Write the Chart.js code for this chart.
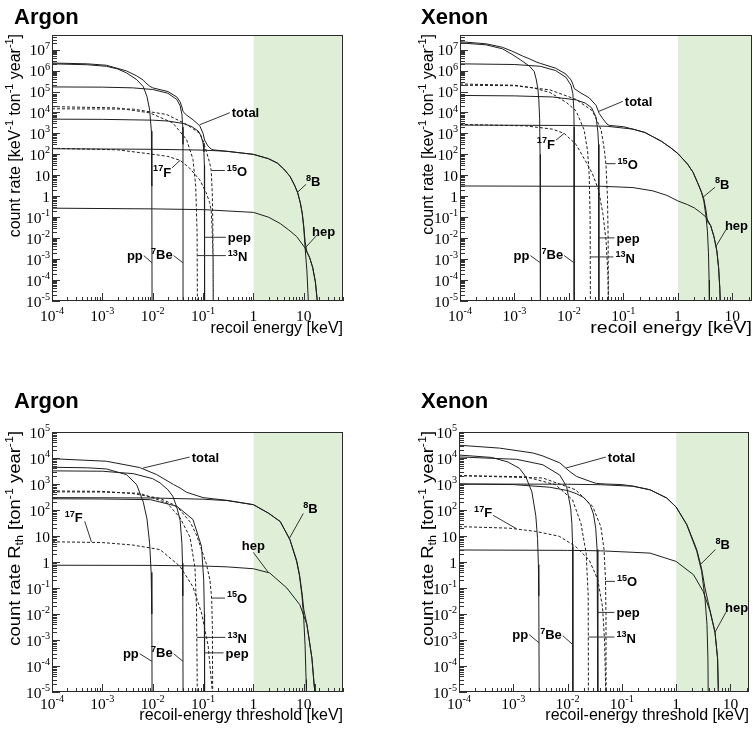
<!DOCTYPE html>
<html>
<head>
<meta charset="utf-8">
<script src="https://cdn.jsdelivr.net/npm/chart.js@4.4.1/dist/chart.umd.min.js"></script>
<style>
  body { margin: 0; background: #fff; width: 753px; height: 735px; position: relative; overflow: hidden; }
  canvas { position: absolute; }
</style>
</head>
<body>
<canvas id="argonDiff" width="376" height="350" style="left:0;top:0"></canvas>
<canvas id="xenonDiff" width="377" height="350" style="left:376px;top:0"></canvas>
<canvas id="argonRate" width="376" height="355" style="left:0;top:380px"></canvas>
<canvas id="xenonRate" width="377" height="355" style="left:376px;top:380px"></canvas>
<script>
// ---- values: [recoil energy keV, rate] ----
const seriesNames = ['pp', '7Be', 'pep', '13N', '15O', '17F', '8B', 'hep', 'total'];
const dashedNames = ['13N', '15O', '17F'];
const xDecades = [-4, -3, -2, -1, 0, 1];
const yDecadesDiff = [-5, -4, -3, -2, -1, 0, 1, 2, 3, 4, 5, 6, 7];
const yDecadesRate = [-5, -4, -3, -2, -1, 0, 1, 2, 3, 4, 5];
const bandStart = 1; // keV, shaded region

// Argon, differential rate
const arDiffPP = [[1e-4,2.1e6],[5e-4,1.9e6],[1.2e-3,1.6e6],[2e-3,1.2e6],[3e-3,7.8e5],[4.8e-3,3.7e5],[6.5e-3,1.7e5],[7.7e-3,5.7e4],[8.7e-3,1.3e4],[9.4e-3,1.3e3],[9.6e-3,3],[9.7e-3,1e-5]];
const arDiffBe7 = [[1e-4,1.66e5],[1e-3,1.62e5],[4e-3,1.5e5],[1e-2,1.25e5],[2e-2,8.3e4],[3e-2,4.2e4],[3.5e-2,2.1e4],[3.8e-2,8e3],[3.95e-2,2e3],[3.99e-2,3e2],[4e-2,1e-5]];
const arDiffPep = [[1e-4,4.8e3],[1e-3,4.7e3],[1e-2,4.3e3],[2e-2,3.9e3],[4e-2,3e3],[6e-2,2.1e3],[8e-2,1.3e3],[9e-2,8e2],[0.1,3.5e2],[0.104,1.3e2],[0.106,30],[0.107,1e-5]];
const arDiffN13 = [[1e-4,1.9e4],[1.9e-3,1.66e4],[8.7e-3,9.6e3],[2.5e-2,3.2e3],[4.7e-2,5.1e2],[6.3e-2,58],[7.14e-2,3.1],[7.6e-2,1.9e-2],[7.7e-2,1e-5]];
const arDiffO15 = [[1e-4,1.5e4],[4.1e-3,1.45e4],[1.9e-2,8e3],[4.7e-2,2.7e3],[8.6e-2,1e3],[0.1,4.5e2],[0.115,1.5e2],[0.135,40],[0.145,17],[0.152,1.5],[0.156,0.05],[0.158,1e-3],[0.159,1e-5]];
const arDiffF17 = [[1e-4,195],[2e-3,165],[9e-3,105],[2e-2,80],[3.5e-2,52],[5.4e-2,22],[8.6e-2,6],[0.115,1.5],[0.135,0.5],[0.145,0.2],[0.152,0.02],[0.158,1e-3],[0.159,1e-5]];
const arDiffB8 = [[1e-4,186],[1e-2,175],[0.1,160],[0.3,140],[1,100],[2,62],[3,38],[4,20],[5.3,9],[6.5,3.5],[7.5,1.55],[8.5,0.5],[9.3,0.15],[10,0.03],[10.6,3.5e-3],[11.5,3e-4],[12.3,1e-5]];
const arDiffHep = [[1e-4,0.27],[1e-2,0.25],[0.1,0.23],[1,0.17],[2,0.1],[3.4,0.05],[5,0.025],[7.2,0.012],[10.6,3.4e-3],[13,1.2e-3],[15,4e-4],[17,8e-5],[18.5,1e-5]];
const arDiffTotal = [[1e-4,2.3e6],[5e-4,2.1e6],[1.2e-3,1.8e6],[3e-3,9.7e5],[4.8e-3,5.6e5],[6.5e-3,3.5e5],[7.7e-3,2.3e5],[8.7e-3,1.8e5],[1e-2,1.5e5],[2e-2,1e5],[3e-2,5.5e4],[3.5e-2,3.2e4],[3.8e-2,1.8e4],[4e-2,1.1e4],[4.7e-2,7.5e3],[6.3e-2,4.5e3],[8.6e-2,2.3e3],[0.1,1e3],[0.107,480],[0.125,250],[0.145,180],[0.16,165],[0.3,140],[1,100],[2,62],[3,38],[4,20],[5.3,9],[6.5,3.5],[7.5,1.56],[8.5,0.5],[9.3,0.16],[10,0.035],[10.6,7e-3],[11.5,2.2e-3],[13,1.2e-3],[15,4e-4],[17,8e-5],[18.5,1e-5]];

// Xenon, differential rate
const xeDiffPP = [[1e-4,2.1e7],[3e-4,1.7e7],[6e-4,1.1e7],[9e-4,6e6],[1.3e-3,3.2e6],[1.9e-3,1.6e6],[2.3e-3,9e5],[2.5e-3,4e5],[2.7e-3,1.3e5],[2.8e-3,4e4],[2.9e-3,5e3],[2.95e-3,1e2],[3e-3,1e-5]];
const xeDiffBe7 = [[1e-4,2.1e6],[1e-3,1.95e6],[3e-3,1.6e6],[5.7e-3,1e6],[8.8e-3,4.8e5],[1.09e-2,2e5],[1.18e-2,8e4],[1.23e-2,1.5e4],[1.245e-2,2e3],[1.25e-2,1e-5]];
const xeDiffPep = [[1e-4,6.5e4],[1e-3,6.2e4],[5e-3,5.5e4],[1.35e-2,4e4],[2e-2,2.8e4],[2.6e-2,1.7e4],[3.15e-2,6e3],[3.4e-2,1.2e3],[3.5e-2,3e2],[3.55e-2,1e-5]];
const xeDiffN13 = [[1e-4,2.3e5],[1e-3,2e5],[2.2e-3,1.5e5],[4.5e-3,9e4],[9e-3,3e4],[1.35e-2,1.2e4],[1.9e-2,1.5e3],[2.2e-2,1.5e2],[2.36e-2,10],[2.45e-2,0.1],[2.48e-2,1e-5]];
const xeDiffO15 = [[1e-4,2e5],[1e-3,1.9e5],[4.5e-3,1.2e5],[1.35e-2,4.2e4],[2.7e-2,1.2e4],[3.9e-2,1.5e3],[4.5e-2,1.5e2],[4.8e-2,28],[5.1e-2,1],[5.25e-2,0.01],[5.3e-2,1e-5]];
const xeDiffF17 = [[1e-4,2.7e3],[1.6e-3,2.3e3],[5e-3,1.6e3],[8.2e-3,1e3],[1.35e-2,3e2],[2e-2,50],[2.7e-2,12],[3.5e-2,2],[4.2e-2,0.15],[4.8e-2,8e-3],[5.2e-2,2e-4],[5.3e-2,1e-5]];
const xeDiffB8 = [[1e-4,2.5e3],[1e-2,2.4e3],[0.05,2.2e3],[0.15,1.6e3],[0.25,1.1e3],[0.5,420],[0.75,200],[1,110],[1.5,35],[1.9,14],[2.3,4.5],[2.7,1.6],[3,0.6],[3.3,0.1],[3.5,0.02],[3.65,2e-3],[3.75,1e-4],[3.8,1e-5]];
const xeDiffHep = [[1e-4,3.1],[1e-2,3],[0.04,3],[0.15,2.6],[0.35,1.8],[0.63,1.1],[1,0.6],[1.5,0.4],[2,0.28],[2.6,0.17],[3.3,0.1],[4,0.04],[4.6,0.012],[5.2,2.5e-3],[5.6,4e-4],[5.9,4e-5],[6,1e-5]];
const xeDiffTotal = [[1e-4,2.4e7],[3e-4,1.9e7],[6e-4,1.3e7],[9e-4,8.5e6],[1.4e-3,5e6],[1.9e-3,3.6e6],[2.5e-3,2.6e6],[3e-3,2.2e6],[5.7e-3,1.3e6],[8.8e-3,6.8e5],[1.09e-2,3.6e5],[1.18e-2,2.3e5],[1.25e-2,1.4e5],[1.6e-2,9e4],[2.36e-2,5e4],[3.15e-2,2.2e4],[3.6e-2,9e3],[4.2e-2,5e3],[5e-2,2.8e3],[5.5e-2,2.4e3],[0.1,2.1e3],[0.15,1.6e3],[0.25,1.1e3],[0.5,420],[0.75,200],[1,110],[1.5,35],[1.9,14],[2.3,4.5],[2.7,1.7],[3,0.75],[3.3,0.2],[3.5,0.06],[4,0.04],[4.6,0.012],[5.2,2.5e-3],[5.6,4e-4],[5.9,4e-5],[6,1e-5]];

// Argon, rate above threshold
const arRatePP = [[1e-4,4.4e3],[5e-4,4.2e3],[1.2e-3,3.8e3],[3e-3,2.3e3],[4.8e-3,950],[6.5e-3,200],[7.7e-3,45],[8.7e-3,5],[9.3e-3,0.4],[9.6e-3,0.01],[9.7e-3,1e-5]];
const arRateBe7 = [[1e-4,3.2e3],[1e-3,3.1e3],[4.1e-3,2.5e3],[1e-2,1.6e3],[1.4e-2,1.1e3],[2e-2,600],[2.5e-2,340],[3e-2,130],[3.5e-2,40],[3.8e-2,5],[3.9e-2,0.9],[3.96e-2,0.05],[4e-2,1e-5]];
const arRatePep = [[1e-4,270],[1e-3,265],[9e-3,250],[3e-2,140],[6.3e-2,43],[9.3e-2,4],[0.103,0.2],[0.106,0.01],[0.107,1e-5]];
const arRateN13 = [[1e-4,500],[1e-3,490],[5.5e-3,440],[1.9e-2,190],[3.5e-2,50],[5.5e-2,9],[6.9e-2,0.6],[7.4e-2,0.02],[7.6e-2,1e-4],[7.65e-2,1e-5]];
const arRateO15 = [[1e-4,540],[1e-3,520],[4e-3,430],[1.4e-2,280],[2.6e-2,160],[3.5e-2,100],[5.5e-2,35],[7.4e-2,11],[9.3e-2,3],[0.117,0.8],[0.137,0.2],[0.148,0.04],[0.153,3e-3],[0.155,1e-5]];
const arRateF17 = [[1e-4,6],[1e-3,5.6],[4e-3,4.5],[1.4e-2,3],[3.5e-2,0.67],[6.3e-2,0.11],[9.3e-2,0.011],[0.126,6e-4],[0.145,3e-5],[0.153,1e-5]];
const arRateB8 = [[1e-4,300],[1e-2,290],[0.1,260],[0.3,230],[1,160],[2,75],[3.4,36],[5.3,7.2],[7.2,1.05],[8.2,0.3],[9.2,0.05],[10,6e-3],[10.6,6e-4],[11.1,3e-5],[11.3,1e-5]];
const arRateHep = [[1e-4,0.75],[1e-2,0.74],[0.1,0.7],[0.3,0.65],[1,0.55],[2.1,0.38],[4.6,0.1],[8.3,0.023],[11.5,4e-3],[14.5,2e-4],[16,2e-5],[16.6,1e-5]];
const arRateTotal = [[1e-4,9.4e3],[1.2e-3,7.5e3],[5.5e-3,4.3e3],[1.2e-2,2.3e3],[2.6e-2,950],[3.5e-2,700],[4.7e-2,480],[0.1,300],[0.16,270],[0.3,235],[1,160],[2,75],[3.4,36],[5.3,7.3],[7.2,1.15],[8.2,0.33],[9.2,0.065],[10,0.015],[11.5,4e-3],[14.5,2e-4],[16,2e-5],[16.6,1e-5]];

// Xenon, rate above threshold
const xeRatePP = [[1e-4,1.3e4],[4e-4,1.05e4],[8e-4,7e3],[1.3e-3,4e3],[1.7e-3,1.9e3],[2.2e-3,500],[2.6e-3,60],[2.8e-3,8],[2.9e-3,0.8],[2.95e-3,0.05],[3e-3,1e-5]];
const xeRateBe7 = [[1e-4,1.1e4],[1.15e-3,8.9e3],[3.5e-3,5.5e3],[7.2e-3,2.2e3],[9.6e-3,800],[1.14e-2,120],[1.2e-2,30],[1.24e-2,4],[1.25e-2,0.3],[1.255e-2,1e-5]];
const xeRatePep = [[1e-4,1e3],[1e-3,950],[4.7e-3,750],[1e-2,560],[1.47e-2,420],[2e-2,300],[2.6e-2,160],[3e-2,70],[3.3e-2,20],[3.5e-2,3],[3.6e-2,0.2],[3.62e-2,1e-5]];
const xeRateN13 = [[1e-4,2.1e3],[1.7e-3,1.9e3],[6e-3,940],[1.23e-2,250],[1.76e-2,31],[2.2e-2,2.2],[2.4e-2,0.05],[2.42e-2,1e-5]];
const xeRateO15 = [[1e-4,2.1e3],[3.5e-3,1.7e3],[1.4e-2,600],[2.9e-2,138],[4.1e-2,23],[4.7e-2,3],[5e-2,0.2],[5.1e-2,0.01],[5.12e-2,1e-5]];
const xeRateF17 = [[1e-4,23],[8.4e-4,20],[2.6e-3,15],[7e-3,9.8],[1.4e-2,4],[2.5e-2,1.2],[3.6e-2,0.21],[4.4e-2,0.019],[4.8e-2,1e-3],[5.05e-2,1e-5]];
const xeRateB8 = [[1e-4,1e3],[1e-2,980],[0.04,940],[0.16,820],[0.33,600],[0.67,290],[1,130],[1.57,27],[2.4,2.6],[2.95,0.44],[3.4,0.04],[3.7,4e-3],[3.85,2e-4],[3.9,1e-5]];
const xeRateHep = [[1e-4,2.9],[1e-2,2.8],[0.04,2.7],[0.33,2.2],[1,1.05],[2.1,0.32],[3.15,0.074],[4.2,0.013],[5.2,2e-3],[5.8,2e-4],[6,1e-5]];
const xeRateTotal = [[1e-4,3.1e4],[5.6e-4,2.4e4],[2.3e-3,1.56e4],[3.5e-3,1.2e4],[7.2e-3,6.5e3],[1.1e-2,3e3],[1.47e-2,1.95e3],[2.6e-2,1.26e3],[3.4e-2,1.05e3],[5e-2,1e3],[0.1,950],[0.16,830],[0.33,600],[0.67,290],[1,130],[1.57,28],[2.4,3],[2.95,0.55],[3.4,0.1],[4.2,0.014],[5.2,2e-3],[5.8,2e-4],[6,1e-5]];

// curve labels: [text, x, y (point on curve), leader dx, dy (px), text align, text dx, dy (px)]
const arDiffNotes = [
  ['total', 0.086, 2.6e3, 30, -12, 'left', 2, 0],
  ['^{17}F', 0.035, 52, -8, 7.5, 'right', -1, 4],
  ['^{15}O', 0.146, 17, 13.5, 0, 'left', 2, 1],
  ['^{8}B', 7.5, 1.55, 8.5, -8, 'left', 0, -3],
  ['hep', 10.6, 3.4e-3, 12, -13, 'left', -5, -4],
  ['pep', 0.105, 0.011, 21.7, 0, 'left', 2, 0],
  ['^{13}N', 0.077, 1.47e-3, 28.4, 0, 'left', 2, 1],
  ['pp', 0.0097, 6.6e-4, -8.3, -7.3, 'right', -1, 0],
  ['^{7}Be', 0.04, 6.6e-4, -9.4, -7.3, 'right', -1, -1]
];
const xeDiffNotes = [
  ['total', 0.0354, 1.13e4, 24, -10, 'left', 2, 0],
  ['^{17}F', 8.2e-3, 1e3, -8.3, 6.7, 'right', -1, 4],
  ['^{15}O', 0.047, 36, 10, 0, 'left', 2, 1],
  ['^{8}B', 2.9, 0.9, 12, -10, 'left', 0, -3],
  ['hep', 5.0, 4e-3, 10, -16.7, 'left', -1, -4],
  ['pep', 0.0355, 0.0103, 15.6, 0, 'left', 2, 0],
  ['^{13}N', 0.0248, 1.27e-3, 23, 0, 'left', 2, 1],
  ['pp', 0.003, 6.6e-4, -10, -7.3, 'right', -1, 0],
  ['^{7}Be', 0.0125, 6.6e-4, -10, -7.3, 'right', -1, -1]
];
const arRateNotes = [
  ['total', 6.4e-3, 4.1e3, 46.7, -11, 'left', 2, 0],
  ['^{17}F', 6.07e-4, 5.9, -6.7, -20.6, 'right', -2, -4],
  ['^{8}B', 5.15, 8, 14, -25, 'left', 0, -5],
  ['hep', 1.97, 0.4, -15, -20, 'center', 0, -7],
  ['^{15}O', 0.148, 0.041, 13.3, 0, 'left', 2, 0],
  ['^{13}N', 0.076, 1.26e-3, 28.3, 0, 'left', 2, 1],
  ['pep', 0.107, 3.2e-4, 19, 0, 'left', 2, 0],
  ['pp', 0.0097, 1.5e-4, -12.3, -7.7, 'right', -1, 0],
  ['^{7}Be', 0.04, 1.5e-4, -9.4, -7.7, 'right', -1, -1]
];
const xeRateNotes = [
  ['total', 9.3e-3, 4.1e3, 40, -11, 'left', 2, 0],
  ['^{17}F', 1.15e-3, 19, -23.4, -13.4, 'right', -1, -3],
  ['^{8}B', 2.8, 0.8, 15, -15, 'left', 0, -5],
  ['hep', 5.2, 2e-3, 11, -20, 'left', -1, -5],
  ['^{15}O', 0.0488, 0.18, 10, 0, 'left', 2, 0],
  ['pep', 0.036, 0.0115, 16.7, 0, 'left', 2, 0],
  ['^{13}N', 0.0242, 1.3e-3, 26, 0, 'left', 2, 1],
  ['pp', 0.003, 7.7e-4, -10, -8.3, 'right', -1, 0],
  ['^{7}Be', 0.0125, 6.6e-4, -10, -9, 'right', -1, -1]
];

const SANS = "'Liberation Sans', Arial, Helvetica, sans-serif";
const SERIF = "'Liberation Serif', 'Times New Roman', serif";
const lineColor = '#1e1e1e';
const bandColor = 'rgb(223,238,214)';

const panels = [
  { id: 'argonDiff', title: 'Argon', titleX: 14, titleY: 24, xMax: 60, yMin: 1e-5, yMax: 5e7,
    pad: { left: 52, top: 35, right: 33, bottom: 49 }, yDecades: yDecadesDiff,
    yTitle: 'count rate [keV^{-1} ton^{-1} year^{-1}]', yTitleX: 20, yTitleStretch: 1,
    xTitle: 'recoil energy [keV]', xTitleStretch: 1, xLabelGap: 20, xTitleGap: 32,
    series: [arDiffPP, arDiffBe7, arDiffPep, arDiffN13, arDiffO15, arDiffF17, arDiffB8, arDiffHep, arDiffTotal], notes: arDiffNotes },
  { id: 'xenonDiff', title: 'Xenon', titleX: 45, titleY: 24, xMax: 23, yMin: 1e-5, yMax: 5e7,
    pad: { left: 84, top: 35, right: 1, bottom: 49 }, yDecades: yDecadesDiff,
    yTitle: 'count rate [kev^{-1} ton^{-1} year^{-1}]', yTitleX: 57, yTitleStretch: 1,
    xTitle: 'recoil energy [keV]', xTitleStretch: 1.22, xLabelGap: 20, xTitleGap: 32,
    series: [xeDiffPP, xeDiffBe7, xeDiffPep, xeDiffN13, xeDiffO15, xeDiffF17, xeDiffB8, xeDiffHep, xeDiffTotal], notes: xeDiffNotes },
  { id: 'argonRate', title: 'Argon', titleX: 14, titleY: 28, xMax: 60, yMin: 1e-5, yMax: 1e5,
    pad: { left: 52, top: 52, right: 33, bottom: 43 }, yDecades: yDecadesRate,
    yTitle: 'count rate R_{th} [ton^{-1} year^{-1}]', yTitleX: 20, yTitleStretch: 1.15,
    xTitle: 'recoil-energy threshold [keV]', xTitleStretch: 1, xLabelGap: 17, xTitleGap: 28,
    series: [arRatePP, arRateBe7, arRatePep, arRateN13, arRateO15, arRateF17, arRateB8, arRateHep, arRateTotal], notes: arRateNotes },
  { id: 'xenonRate', title: 'Xenon', titleX: 45, titleY: 28, xMax: 22, yMin: 1e-5, yMax: 1e5,
    pad: { left: 83, top: 52, right: 4, bottom: 43 }, yDecades: yDecadesRate,
    yTitle: 'count rate R_{th} [ton^{-1} year^{-1}]', yTitleX: 57, yTitleStretch: 1.15,
    xTitle: 'recoil-energy threshold [keV]', xTitleStretch: 1, xLabelGap: 17, xTitleGap: 28,
    series: [xeRatePP, xeRateBe7, xeRatePep, xeRateN13, xeRateO15, xeRateF17, xeRateB8, xeRateHep, xeRateTotal], notes: xeRateNotes }
];

// text with ^{..} superscripts and _{..} subscripts, y is the baseline
function drawRich(ctx, s, x, y, o) {
  const parts = [];
  s.replace(/([\^_])\{([^}]*)\}|([^\^_]+)/g, (m, mark, inner, plain) => {
    parts.push(plain !== undefined ? [plain, 0] : [inner, mark === '^' ? 1 : -1]);
    return m;
  });
  const small = o.size * (o.scale || 0.68);
  const fontOf = sz => (o.weight || 'normal') + ' ' + sz + 'px ' + o.family;
  let total = 0;
  const widths = parts.map(([t, m]) => {
    ctx.font = fontOf(m ? small : o.size);
    const w = ctx.measureText(t).width;
    total += w;
    return w;
  });
  ctx.save();
  ctx.translate(x, y);
  if (o.rotate) ctx.rotate(o.rotate);
  if (o.stretch) ctx.scale(o.stretch, 1);
  ctx.fillStyle = o.color || '#000';
  ctx.textAlign = 'left';
  ctx.textBaseline = 'alphabetic';
  let cx = o.align === 'right' ? -total : o.align === 'center' ? -total / 2 : 0;
  const base = o.middle ? o.size * 0.36 : 0;
  parts.forEach(([t, m], i) => {
    ctx.font = fontOf(m ? small : o.size);
    const dy = m === 1 ? -o.size * 0.42 : m === -1 ? o.size * 0.2 : 0;
    ctx.fillText(t, cx, base + dy);
    cx += widths[i];
  });
  ctx.restore();
}

function decadeLabel(k) {
  if (k === 0) return '1';
  if (k === 1) return '10';
  return '10^{' + k + '}';
}

function axesPlugin(p) {
  return {
    id: 'rootAxes',
    afterDraw(chart) {
      const ctx = chart.ctx;
      const a = chart.chartArea;
      const xs = chart.scales.x, ys = chart.scales.y;
      ctx.save();
      // ticks, pointing inwards like ROOT
      ctx.strokeStyle = '#333';
      ctx.lineWidth = 1;
      ctx.beginPath();
      for (let k = -6; k <= 8; k++) {
        for (let m = 1; m < 10; m++) {
          const v = m * Math.pow(10, k);
          const len = m === 1 ? 8 : 4;
          if (v >= xs.min * 0.999 && v <= xs.max * 1.001) {
            const px = Math.round(xs.getPixelForValue(v)) + 0.5;
            ctx.moveTo(px, a.bottom);
            ctx.lineTo(px, a.bottom - len);
          }
          if (v >= ys.min * 0.999 && v <= ys.max * 1.001) {
            const py = Math.round(ys.getPixelForValue(v)) + 0.5;
            ctx.moveTo(a.left, py);
            ctx.lineTo(a.left + (m === 1 ? 8 : 5), py);
          }
        }
      }
      ctx.stroke();
      // frame
      ctx.strokeStyle = '#2a2a2a';
      ctx.strokeRect(a.left + 0.5, a.top + 0.5, a.right - a.left - 1, a.bottom - a.top - 1);

      // tick labels
      p.yDecades.forEach(k => {
        drawRich(ctx, decadeLabel(k), a.left - 2, ys.getPixelForValue(Math.pow(10, k)),
          { size: 15.5, family: SERIF, align: 'right', middle: true, scale: 0.66 });
      });
      xDecades.forEach(k => {
        drawRich(ctx, decadeLabel(k), xs.getPixelForValue(Math.pow(10, k)), a.bottom + p.xLabelGap,
          { size: 15.5, family: SERIF, align: 'center', scale: 0.66 });
      });
      // axis titles
      drawRich(ctx, p.xTitle, a.right, a.bottom + p.xTitleGap,
        { size: 16, family: SANS, align: 'right', stretch: p.xTitleStretch });
      drawRich(ctx, p.yTitle, p.yTitleX, a.top - 1,
        { size: 16, family: SANS, align: 'right', rotate: -Math.PI / 2, stretch: p.yTitleStretch });
      // panel title
      drawRich(ctx, p.title, p.titleX, p.titleY, { size: 22, family: SANS, weight: 'bold' });

      // curve labels with leader lines
      ctx.strokeStyle = '#333';
      p.notes.forEach(([text, x, y, dx, dy, align, tx, ty]) => {
        const x0 = xs.getPixelForValue(x), y0 = ys.getPixelForValue(y);
        ctx.beginPath();
        ctx.moveTo(x0, y0);
        ctx.lineTo(x0 + dx, y0 + dy);
        ctx.stroke();
        drawRich(ctx, text, x0 + dx + tx, y0 + dy + ty,
          { size: 13, family: SANS, weight: 'bold', align, middle: true, scale: 0.7 });
      });
      ctx.restore();
    }
  };
}

function makePanel(p) {
  const datasets = p.series.map((pts, i) => ({
    label: seriesNames[i],
    data: pts.map(([x, y]) => ({ x, y })),
    borderColor: lineColor,
    borderWidth: 1,
    borderDash: dashedNames.includes(seriesNames[i]) ? [3, 2] : [],
    pointRadius: 0,
    tension: 0,
    fill: false,
    order: 1
  }));
  datasets.push({
    label: 'band',
    data: [{ x: bandStart, y: p.yMax }, { x: p.xMax, y: p.yMax }],
    borderWidth: 0,
    borderColor: 'rgba(0,0,0,0)',
    pointRadius: 0,
    backgroundColor: bandColor,
    fill: { value: p.yMin },
    order: 10
  });

  new Chart(document.getElementById(p.id), {
    type: 'line',
    data: { datasets },
    options: {
      responsive: false,
      animation: false,
      events: [],
      layout: { padding: p.pad },
      scales: {
        x: { type: 'logarithmic', min: 1e-4, max: p.xMax, display: false },
        y: { type: 'logarithmic', min: p.yMin, max: p.yMax, display: false }
      },
      plugins: {
        legend: { display: false },
        tooltip: { enabled: false }
      }
    },
    plugins: [axesPlugin(p)]
  });
}

panels.forEach(makePanel);
</script>
</body>
</html>
